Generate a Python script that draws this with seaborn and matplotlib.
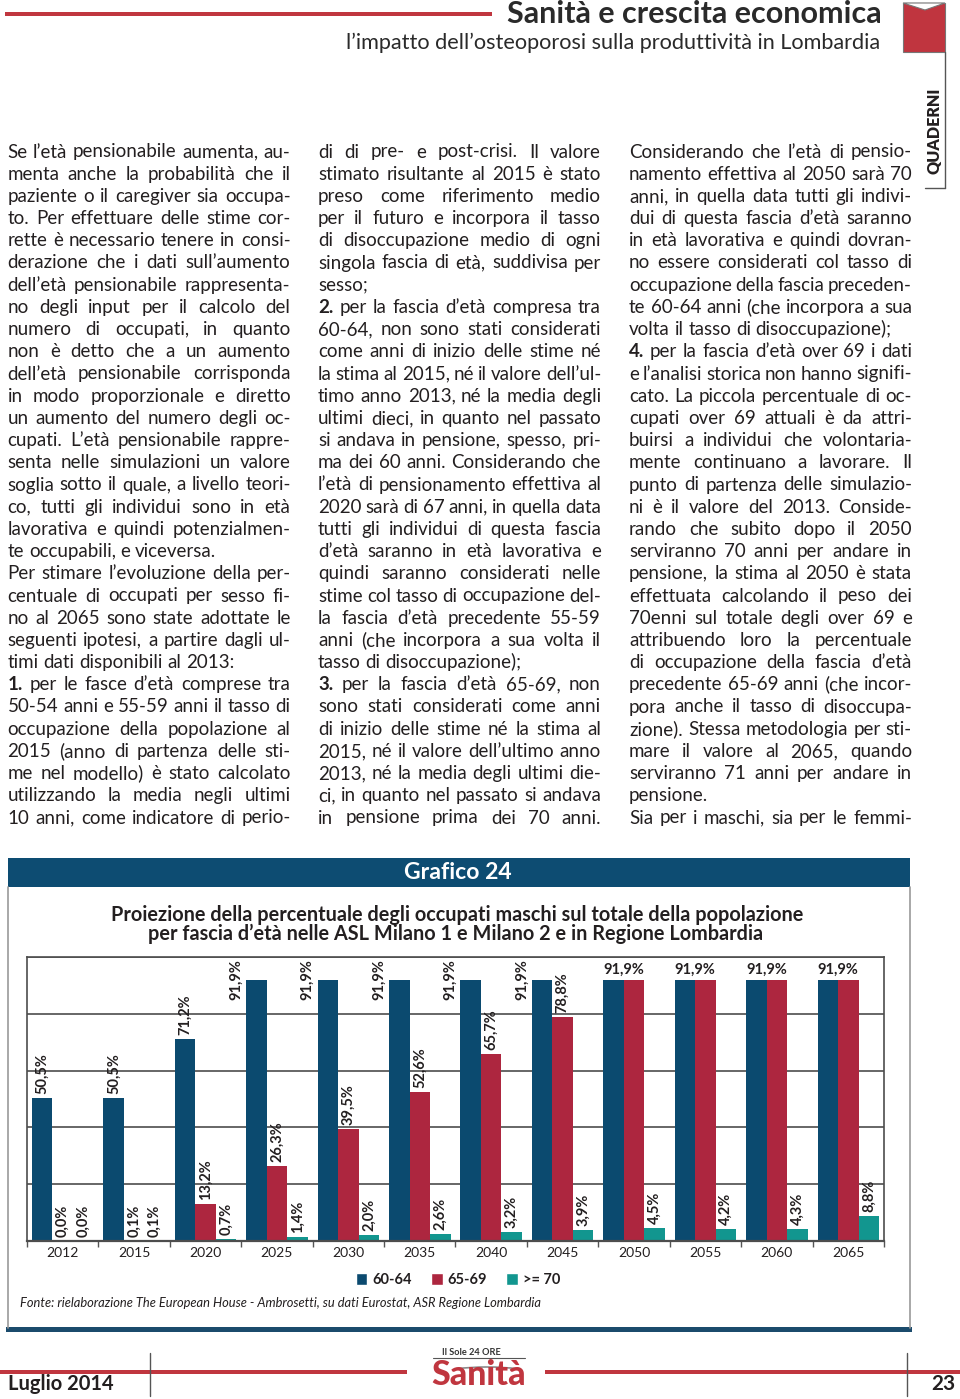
import matplotlib
matplotlib.use('Agg')
import matplotlib.pyplot as plt
from matplotlib.patches import Rectangle, Polygon, Patch, Arc
import seaborn as sns
import pandas as pd
import numpy as np

# dati del grafico 24
anni = ['2012', '2015', '2020', '2025', '2030', '2035',
        '2040', '2045', '2050', '2055', '2060', '2065']
fascia_60_64 = [50.5, 50.5, 71.2, 91.9, 91.9, 91.9, 91.9, 91.9, 91.9, 91.9, 91.9, 91.9]
fascia_65_69 = [0.0, 0.1, 13.2, 26.3, 39.5, 52.6, 65.7, 78.8, 91.9, 91.9, 91.9, 91.9]
fascia_70 = [0.0, 0.1, 0.7, 1.4, 2.0, 2.6, 3.2, 3.9, 4.5, 4.2, 4.3, 8.8]
fasce = ['60-64', '65-69', '>= 70']
colori = ['#0b4a6f', '#ad263f', '#12968f']

# testo delle tre colonne (righe come impaginate), indici delle righe di fine paragrafo
colonna_1 = [
    "Se l’età pensionabile aumenta, au-",
    "menta anche la probabilità che il",
    "paziente o il caregiver sia occupa-",
    "to. Per effettuare delle stime cor-",
    "rette è necessario tenere in consi-",
    "derazione che i dati sull’aumento",
    "dell’età pensionabile rappresenta-",
    "no degli input per il calcolo del",
    "numero di occupati, in quanto",
    "non è detto che a un aumento",
    "dell’età pensionabile corrisponda",
    "in modo proporzionale e diretto",
    "un aumento del numero degli oc-",
    "cupati. L’età pensionabile rappre-",
    "senta nelle simulazioni un valore",
    "soglia sotto il quale, a livello teori-",
    "co, tutti gli individui sono in età",
    "lavorativa e quindi potenzialmen-",
    "te occupabili, e viceversa.",
    "Per stimare l’evoluzione della per-",
    "centuale di occupati per sesso fi-",
    "no al 2065 sono state adottate le",
    "seguenti ipotesi, a partire dagli ul-",
    "timi dati disponibili al 2013:",
    "1. per le fasce d’età comprese tra",
    "50-54 anni e 55-59 anni il tasso di",
    "occupazione della popolazione al",
    "2015 (anno di partenza delle sti-",
    "me nel modello) è stato calcolato",
    "utilizzando la media negli ultimi",
    "10 anni, come indicatore di perio-",
]
fine_1 = [18, 23]

colonna_2 = [
    "di di pre- e post-crisi. Il valore",
    "stimato risultante al 2015 è stato",
    "preso come riferimento medio",
    "per il futuro e incorpora il tasso",
    "di disoccupazione medio di ogni",
    "singola fascia di età, suddivisa per",
    "sesso;",
    "2. per la fascia d’età compresa tra",
    "60-64, non sono stati considerati",
    "come anni di inizio delle stime né",
    "la stima al 2015, né il valore dell’ul-",
    "timo anno 2013, né la media degli",
    "ultimi dieci, in quanto nel passato",
    "si andava in pensione, spesso, pri-",
    "ma dei 60 anni. Considerando che",
    "l’età di pensionamento effettiva al",
    "2020 sarà di 67 anni, in quella data",
    "tutti gli individui di questa fascia",
    "d’età saranno in età lavorativa e",
    "quindi saranno considerati nelle",
    "stime col tasso di occupazione del-",
    "la fascia d’età precedente 55-59",
    "anni (che incorpora a sua volta il",
    "tasso di disoccupazione);",
    "3. per la fascia d’età 65-69, non",
    "sono stati considerati come anni",
    "di inizio delle stime né la stima al",
    "2015, né il valore dell’ultimo anno",
    "2013, né la media degli ultimi die-",
    "ci, in quanto nel passato si andava",
    "in pensione prima dei 70 anni.",
]
fine_2 = [6, 23]

colonna_3 = [
    "Considerando che l’età di pensio-",
    "namento effettiva al 2050 sarà 70",
    "anni, in quella data tutti gli indivi-",
    "dui di questa fascia d’età saranno",
    "in età lavorativa e quindi dovran-",
    "no essere considerati col tasso di",
    "occupazione della fascia preceden-",
    "te 60-64 anni (che incorpora a sua",
    "volta il tasso di disoccupazione);",
    "4. per la fascia d’età over 69 i dati",
    "e l’analisi storica non hanno signifi-",
    "cato. La piccola percentuale di oc-",
    "cupati over 69 attuali è da attri-",
    "buirsi a individui che volontaria-",
    "mente continuano a lavorare. Il",
    "punto di partenza delle simulazio-",
    "ni è il valore del 2013. Conside-",
    "rando che subito dopo il 2050",
    "serviranno 70 anni per andare in",
    "pensione, la stima al 2050 è stata",
    "effettuata calcolando il peso dei",
    "70enni sul totale degli over 69 e",
    "attribuendo loro la percentuale",
    "di occupazione della fascia d’età",
    "precedente 65-69 anni (che incor-",
    "pora anche il tasso di disoccupa-",
    "zione). Stessa metodologia per sti-",
    "mare il valore al 2065, quando",
    "serviranno 71 anni per andare in",
    "pensione.",
    "Sia per i maschi, sia per le femmi-",
]
fine_3 = [8, 29]

sns.set_theme(style='white')
plt.rcParams['font.family'] = ['Lato', 'DejaVu Sans']
nero = '#231f20'

fig = plt.figure(figsize=(9.6, 13.99), dpi=100)
page = fig.add_axes([0, 0, 1, 1])
page.set_xlim(0, 960)
page.set_ylim(1399, 0)
page.axis('off')
renderer = fig.canvas.get_renderer()


def larghezza(t):
    return t.get_window_extent(renderer).width


def testo(x, y, s, w=None, size=12, rot=0, **kw):
    t = page.text(x, y, s, fontsize=size, **kw)
    if w:
        t.set_fontsize(size * w / larghezza(t))
    if rot:
        t.set_rotation(rot)
    return t


# intestazione
page.add_patch(Rectangle((5, 11.5), 487, 4.5, color='#c0363f', lw=0))
testo(882, 14, "Sanità e crescita economica", w=374, size=20, ha='right', va='center',
      fontweight='bold', color='#2a2a2a')
testo(880, 43, "l’impatto dell’osteoporosi sulla produttività in Lombardia", w=537, size=14,
      ha='right', va='center', color='#2a2a2a')
page.add_patch(Rectangle((903, 3), 42, 49, facecolor='#c0353f', edgecolor='#777777', lw=0.8))
page.add_patch(Polygon([(903, 3), (925, 10), (945, 3)], closed=True, facecolor='white',
                       edgecolor='#777777', lw=0.8))
page.plot([945, 945], [52, 188], color='#555555', lw=1)
page.plot([925, 945], [188, 188], color='#555555', lw=1)
testo(935, 131, "QUADERNI", w=87, size=11, rot=90, ha='center', va='center',
      fontweight='heavy', color=nero)

# colonne di testo giustificate
base = 10
tutte = colonna_1 + colonna_2 + colonna_3
prova = page.text(0, 0, '', fontsize=base)
nat = []
for r in tutte:
    prova.set_text(r)
    nat.append(larghezza(prova))
prova.remove()
corpo = base * 283 / np.percentile(nat, 90) * 0.99


def colonna(x0, righe, fine, y0=157.5, passo=22.2, w=283):
    t = page.text(0, 0, 'a a', fontsize=corpo)
    t2 = page.text(0, 0, 'aa', fontsize=corpo)
    spazio = larghezza(t) - larghezza(t2)
    t.remove()
    t2.remove()
    for i, riga in enumerate(righe):
        y = y0 + i * passo
        parole = riga.split(' ')
        arts = []
        for p in parole:
            peso = 'bold' if p in ('1.', '2.', '3.', '4.') else 'normal'
            arts.append(page.text(0, y, p, fontsize=corpo, fontweight=peso,
                                  va='baseline', ha='left', color=nero))
        ws = [larghezza(a) for a in arts]
        n = len(arts)
        minimo = 0.6 * spazio
        if sum(ws) + (n - 1) * minimo > w:
            k = (w - (n - 1) * minimo) / sum(ws)
            for a in arts:
                a.set_fontsize(corpo * k)
            ws = [larghezza(a) for a in arts]
        if i in fine or n == 1:
            gap = spazio
        else:
            gap = (w - sum(ws)) / (n - 1)
        x = x0
        for a, wi in zip(arts, ws):
            a.set_x(x)
            x += wi + gap


colonna(7.5, colonna_1, fine_1)
colonna(318, colonna_2, fine_2)
colonna(629, colonna_3, fine_3)

# riquadro del grafico
page.add_patch(Rectangle((8, 858), 902, 29, color='#0d4c72', lw=0))
testo(458, 872.5, "Grafico 24", w=108, size=14, ha='center', va='center',
      fontweight='bold', color='white')
page.plot([8, 8], [887, 1328], color='#9a9a9a', lw=1.2)
page.plot([910, 910], [887, 1328], color='#9a9a9a', lw=1.2)
page.add_patch(Rectangle((6, 1327), 906, 5, color='#1b4b6c', lw=0))
t1 = testo(457, 915, "Proiezione della percentuale degli occupati maschi sul totale della popolazione",
           w=692, size=13, ha='center', va='center', fontweight='bold', color=nero)
page.text(456, 934, "per fascia d’età nelle ASL Milano 1 e Milano 2 e in Regione Lombardia",
          fontsize=t1.get_fontsize(), ha='center', va='center', fontweight='bold', color=nero)
testo(20, 1303, "Fonte: rielaborazione The European House - Ambrosetti, su dati Eurostat, ASR Regione Lombardia",
      w=521, size=9, ha='left', va='center', style='italic', color=nero)

# grafico a barre
df = pd.DataFrame({
    'anno': anni * 3,
    'valore': fascia_60_64 + fascia_65_69 + fascia_70,
    'fascia': np.repeat(fasce, len(anni)),
})
ax = fig.add_axes([27 / 960, 1 - 1241 / 1399, 857 / 960, 284 / 1399])
sns.barplot(data=df, x='anno', y='valore', hue='fascia', palette=colori, width=0.86,
            saturation=1, linewidth=0, legend=False, ax=ax)
ax.set_xlim(-0.5, len(anni) - 0.5)
ax.set_ylim(0, 100)
ax.set_yticks([0, 20, 40, 60, 80, 100])
ax.set_yticklabels([])
ax.yaxis.grid(True, color='#4d4d4d', lw=1.2)
ax.set_axisbelow(True)
ax.set_xlabel('')
ax.set_ylabel('')
ax.set_xticks(range(len(anni)))
ax.set_xticks(np.arange(-0.5, len(anni)), minor=True)
ax.tick_params(axis='x', which='major', length=0, pad=4, labelsize=10, labelcolor=nero)
ax.tick_params(axis='x', which='minor', length=4, width=1, color='#555555', direction='out', bottom=True)
ax.tick_params(axis='y', length=0)
for s in ax.spines.values():
    s.set_visible(True)
    s.set_color('#4d4d4d')
    s.set_linewidth(1.2)
ax.spines['bottom'].set_linewidth(1.6)


def fmt(v):
    return f"{v:.1f}%".replace('.', ',')


bw = 0.86 / 3
for k, cont in enumerate(ax.containers):
    for i, bar in enumerate(cont):
        v = bar.get_height()
        xc = bar.get_x() + bar.get_width() / 2
        if fascia_60_64[i] == fascia_65_69[i] and k < 2:
            if k == 0:
                ax.text(xc + bw / 2, 95.6, fmt(v), ha='center', va='center', fontsize=10.5,
                        fontweight='bold', color=nero)
            continue
        if v > 85:
            ax.text(xc - bw, 99.3, fmt(v), rotation=90, ha='center', va='top', fontsize=10.5,
                    fontweight='bold', color=nero)
        else:
            ax.text(xc, v + 1.4, fmt(v), rotation=90, ha='center', va='bottom', fontsize=10.5,
                    fontweight='bold', color=nero)

handles = [Patch(facecolor=c, label=f) for c, f in zip(colori, fasce)]
fig.legend(handles=handles, loc='center', bbox_to_anchor=(458 / 960, 1 - 1280 / 1399), ncol=3,
           frameon=False, prop={'weight': 'bold', 'size': 10.5}, handlelength=0.8, handleheight=0.8,
           handletextpad=0.35, columnspacing=1.3, labelcolor=nero)

# piede di pagina
page.add_patch(Rectangle((0, 1369.5), 407, 4.5, color='#c0363f', lw=0))
page.add_patch(Rectangle((545, 1369.5), 415, 4.5, color='#c0363f', lw=0))
page.plot([150, 150], [1353, 1396], color='#555555', lw=1)
page.plot([907, 907], [1353, 1396], color='#555555', lw=1)
testo(8, 1384, "Luglio 2014", w=106, size=14, ha='left', va='center', fontweight='bold', color=nero)
testo(955, 1384, "23", w=24, size=14, ha='right', va='center', fontweight='bold', color=nero)
page.plot([433, 525], [1358, 1358], color='#555555', lw=0.8)
testo(471, 1352.5, "Il Sole 24 ORE", w=60, size=5, ha='center', va='center', fontweight='bold',
      color='#333333')
testo(479, 1375, "Sanità", w=95, size=24, ha='center', va='center', fontweight='black',
      color='#c0363f')
page.add_patch(Arc((487, 1380), 120, 26, theta1=200, theta2=340, color='#8a8a8a', lw=1.2))

fig.savefig('out.png', dpi=100)
